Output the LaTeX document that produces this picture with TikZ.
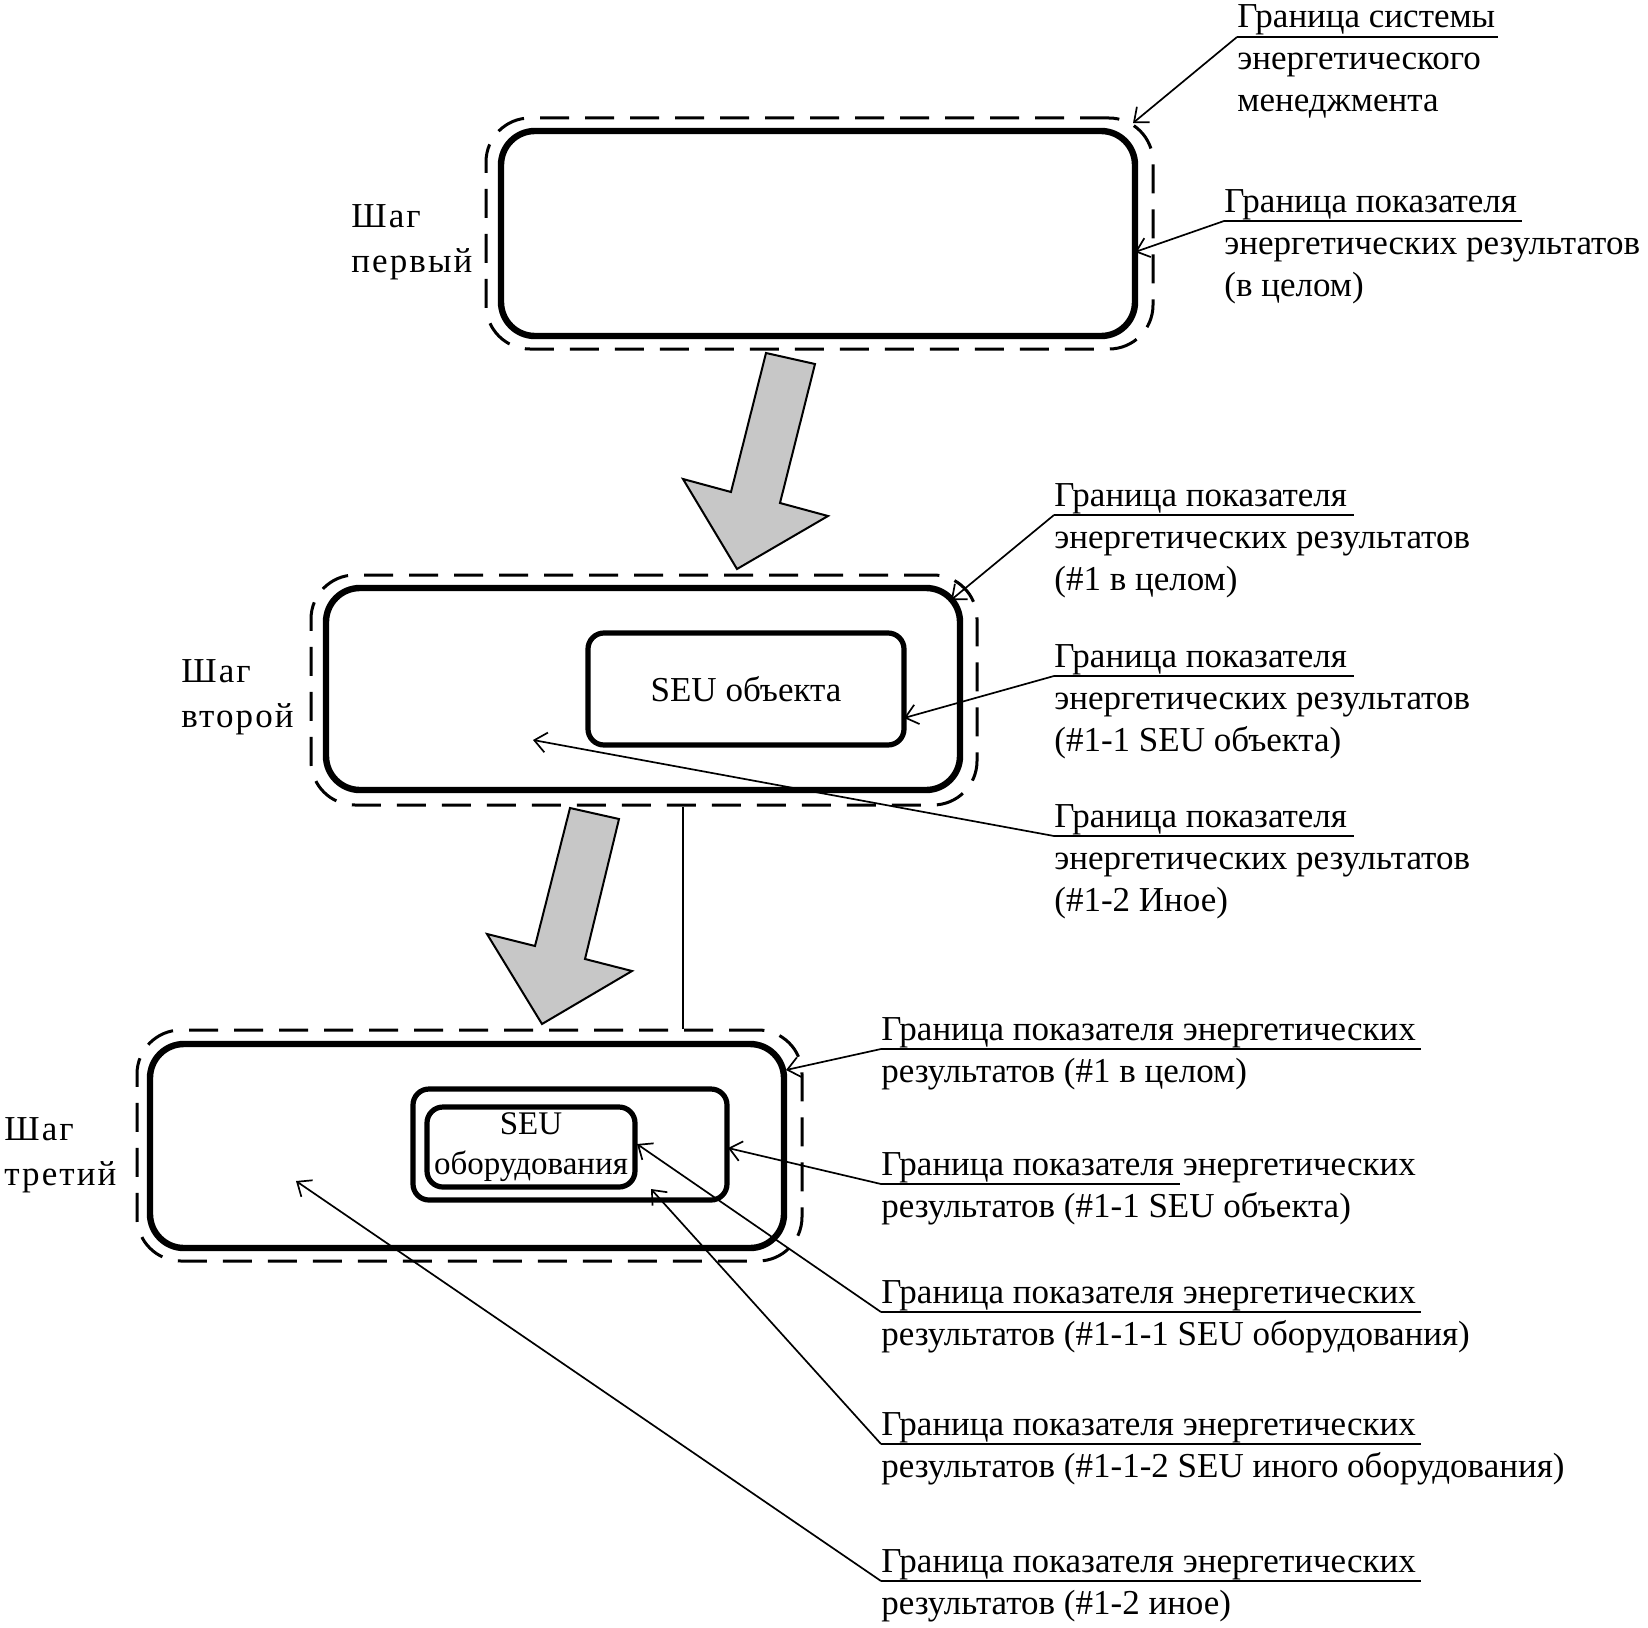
\documentclass[tikz,border=0pt]{standalone}
\usepackage{fontspec}
\setmainfont{Liberation Serif}
\usetikzlibrary{arrows.meta,fit}

\begin{document}
\begin{tikzpicture}[x=0.5pt,y=-0.5pt,
  font=\fontsize{17.5}{21}\selectfont,
  bnd/.style={draw,line width=1.5pt,dash pattern=on 14.5pt off 8pt,rounded corners=22pt,inner sep=0pt},
  ind/.style={draw,line width=3.2pt,rounded corners=17pt,inner sep=0pt},
  sub/.style={draw,line width=2.6pt,rounded corners=8pt,inner sep=0pt},
  lb/.style={anchor=base west,inner sep=0pt,align=left},
  lbA/.style={lb,yshift=-38.5pt}, lbB/.style={lb,yshift=-17.5pt},
  stp/.style={anchor=base west,yshift=-22.5pt,inner sep=0pt,align=left,font=\fontsize{17.5}{22.5}\selectfont\addfontfeatures{LetterSpace=6}},
  ln/.style={line width=0.85pt},
  ar/.style={ln,-{Straight Barb[length=6pt,width=10pt]}},
  blk/.style={draw,line width=1pt,fill=black!22,line join=miter}
]
\useasboundingbox (0,0) rectangle (1648,1627);
\node[bnd,fit={(486,118) (1153,349)}] (sys1) {};
\node[ind,fit={(501,131) (1135,336)}] (ind1) {};
\node[stp] (st1) at (351,227) {Шаг\\первый};
\node[bnd,fit={(311,575) (977,805)}] (sys2) {};
\node[ind,fit={(326,588) (960,790)}] (ind2) {};
\node[sub,fit={(588,633) (904,745)}] (seu2) {};
\node (seu2t) at (seu2.center) {SEU объекта};
\node[stp] (st2) at (181,682) {Шаг\\второй};
\node[bnd,fit={(137,1030) (802,1261)}] (sys3) {};
\node[ind,fit={(150,1044) (784,1248)}] (ind3) {};
\node[sub,fit={(413,1089) (727,1200)}] (seu3) {};
\node[sub,fit={(427,1107) (635,1187)}] (eq3) {};
\node[align=center,inner sep=0pt,font=\fontsize{16.5}{20}\selectfont] (eq3t) at (eq3.center) {SEU\\оборудования};
\node[stp] (st3) at (4,1140) {Шаг\\третий};
\draw[blk] (766,353) -- (815,364) -- (780,503) -- (828,516) -- (737,569) -- (683,479) -- (731,492) -- cycle;
\draw[blk] (570,808) -- (619,819) -- (585,959) -- (632,971) -- (542,1024) -- (487,934) -- (535,946) -- cycle;
\coordinate (lk) at (683,0);
\draw[ln] (sys2.south -| lk) -- (sys3.north -| lk);
\path (1237,35) coordinate (u1) node[lbA] (lb1) {Граница системы\\энергетического\\менеджмента};
\path (1224,219) coordinate (u2) node[lbA] (lb2) {Граница показателя\\энергетических результатов\\(в целом)};
\path (1054,513) coordinate (u3) node[lbA] (lb3) {Граница показателя\\энергетических результатов\\(\#1 в целом)};
\path (1054,674) coordinate (u4) node[lbA] (lb4) {Граница показателя\\энергетических результатов\\(\#1-1 SEU объекта)};
\path (1054,834) coordinate (u5) node[lbA] (lb5) {Граница показателя\\энергетических результатов\\(\#1-2 Иное)};
\path (881,1047) coordinate (u6) node[lbB] (lb6) {Граница показателя энергетических\\результатов (\#1 в целом)};
\path (881,1182) coordinate (u7) node[lbB] (lb7) {Граница показателя энергетических\\результатов (\#1-1 SEU объекта)};
\path (881,1310) coordinate (u8) node[lbB] (lb8) {Граница показателя энергетических\\результатов (\#1-1-1 SEU оборудования)};
\path (881,1442) coordinate (u9) node[lbB] (lb9) {Граница показателя энергетических\\результатов (\#1-1-2 SEU иного оборудования)};
\path (881,1579) coordinate (u10) node[lbB] (lb10) {Граница показателя энергетических\\результатов (\#1-2 иное)};
\coordinate (v1) at (1237,37); \coordinate (v2) at (1224,221);
\coordinate (v3) at (1054,515); \coordinate (v4) at (1054,676);
\coordinate (v5) at (1054,836); \coordinate (v6) at (881,1049);
\coordinate (v7) at (881,1184); \coordinate (v8) at (881,1312);
\coordinate (v9) at (881,1444); \coordinate (v10) at (881,1581);
\coordinate (t1) at (1133,123); \coordinate (t2) at (1135,252);
\coordinate (t3) at (951,600); \coordinate (t4) at (904,718);
\coordinate (t5) at (533,740); \coordinate (t6) at (786,1070);
\coordinate (t7) at (728,1148); \coordinate (t8) at (637,1144);
\coordinate (t9) at (651,1189); \coordinate (t10) at (296,1181);
\draw[ln] (v1) -- ++(261,0); \draw[ln] (v2) -- ++(298,0);
\draw[ln] (v3) -- ++(300,0); \draw[ln] (v4) -- ++(300,0); \draw[ln] (v5) -- ++(300,0);
\draw[ln] (v6) -- ++(540,0); \draw[ln] (v7) -- ++(299,0); \draw[ln] (v8) -- ++(540,0);
\draw[ln] (v9) -- ++(540,0); \draw[ln] (v10) -- ++(540,0);
\draw[ar] (v1) -- (t1); \draw[ar] (v2) -- (t2); \draw[ar] (v3) -- (t3);
\draw[ar] (v4) -- (t4); \draw[ar] (v5) -- (t5); \draw[ar] (v6) -- (t6);
\draw[ar] (v7) -- (t7); \draw[ar] (v8) -- (t8); \draw[ar] (v9) -- (t9);
\draw[ar] (v10) -- (t10);
\end{tikzpicture}
\end{document}
